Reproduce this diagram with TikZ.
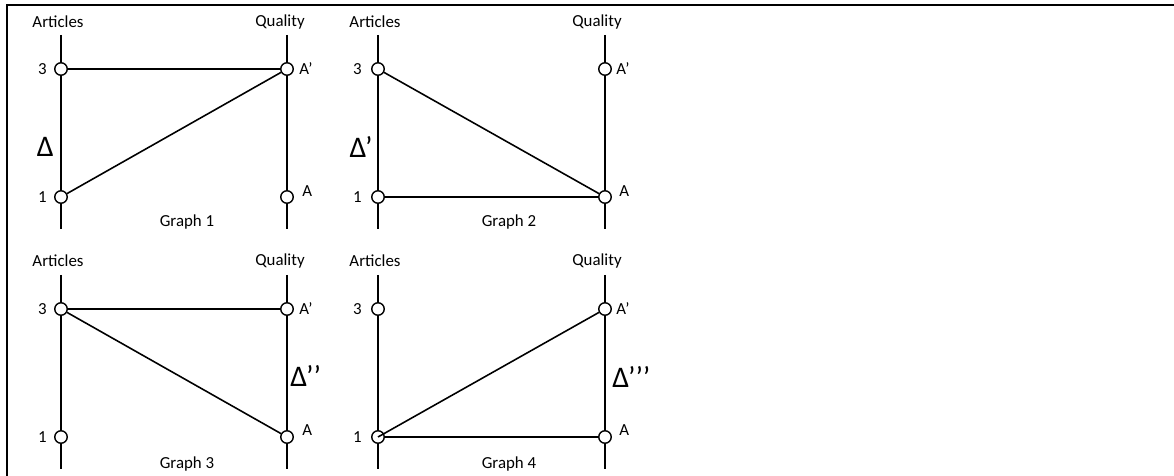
\documentclass[tikz,border=0pt]{standalone}
\usepackage{fontspec}
\setmainfont{Carlito}
\usetikzlibrary{positioning}
\tikzset{
  axis/.style={line width=1.4pt},
  link/.style={line width=0.9pt},
  txt/.style={font=\fontsize{9.6}{11}\selectfont, inner sep=0pt},
  dlt/.style={font=\fontsize{17}{19}\selectfont, inner sep=0pt}
}

\begin{document}
\begin{tikzpicture}[x=0.02cm,y=-0.02cm]
\useasboundingbox (0,0) rectangle (1174,476);
% frame (top and left only)
\coordinate (fr1) at (1174,5);
\coordinate (fr2) at (7,5);
\coordinate (fr3) at (7,476);
\draw[line width=1.6pt] (fr1) -- (fr2) -- (fr3);

% axes
\coordinate (g1at) at (61,35);   \coordinate (g1ab) at (61,229);
\coordinate (g1qt) at (287,35);  \coordinate (g1qb) at (287,229);
\coordinate (g2at) at (378,35);  \coordinate (g2ab) at (378,229);
\coordinate (g2qt) at (605,35);  \coordinate (g2qb) at (605,229);
\coordinate (g3at) at (61,275);  \coordinate (g3ab) at (61,469);
\coordinate (g3qt) at (287,275); \coordinate (g3qb) at (287,469);
\coordinate (g4at) at (378,275); \coordinate (g4ab) at (378,469);
\coordinate (g4qt) at (605,275); \coordinate (g4qb) at (605,469);
\draw[axis] (g1at) -- (g1ab);  \draw[axis] (g1qt) -- (g1qb);
\draw[axis] (g2at) -- (g2ab);  \draw[axis] (g2qt) -- (g2qb);
\draw[axis] (g3at) -- (g3ab);  \draw[axis] (g3qt) -- (g3qb);
\draw[axis] (g4at) -- (g4ab);  \draw[axis] (g4qt) -- (g4qb);

\begin{scope}[every node/.style={circle,draw,line width=0.8pt,fill=white,inner sep=0pt,minimum size=0.25cm}]
    \node (g1a3) at (61,69) {};
    \node (g1a1) at (61,197) {};
    \node (g1qp) at (287,69) {};
    \node (g1q) at (287,197) {};
    \node (g2a3) at (378,69) {};
    \node (g2a1) at (378,197) {};
    \node (g2qp) at (605,69) {};
    \node (g2q) at (605,197) {};
    \node (g3a3) at (61,309) {};
    \node (g3a1) at (61,437) {};
    \node (g3qp) at (287,309) {};
    \node (g3q) at (287,437) {};
    \node (g4a3) at (378,309) {};
    \node (g4a1) at (378,437) {};
    \node (g4qp) at (605,309) {};
    \node (g4q) at (605,437) {};
\end{scope}

% labels
\begin{scope}[every node/.style={txt}]
    \node (g1art) at (58,22) {Articles};
    \node (g1qua) at (280,22) {Quality};
    \node (g2art) at (375,22) {Articles};
    \node (g2qua) at (597,22) {Quality};
    \node (g3art) at (58,261) {Articles};
    \node (g3qua) at (280,261) {Quality};
    \node (g4art) at (375,261) {Articles};
    \node (g4qua) at (597,261) {Quality};
    \node (g1n) at (187,222) {Graph 1};
    \node (g2n) at (509,222) {Graph 2};
    \node (g3n) at (187,464) {Graph 3};
    \node (g4n) at (509,464) {Graph 4};
    \node[anchor=east] at (47,69) {3};
    \node[anchor=east] at (47,197) {1};
    \node[anchor=east] at (362,69) {3};
    \node[anchor=east] at (362,197) {1};
    \node[anchor=east] at (47,309) {3};
    \node[anchor=east] at (47,437) {1};
    \node[anchor=east] at (362,309) {3};
    \node[anchor=east] at (362,437) {1};
    \node[anchor=west] at (299,69) {A’};
    \node[anchor=west] at (302,191) {A};
    \node[anchor=west] at (616,69) {A’};
    \node[anchor=west] at (619,191) {A};
    \node[anchor=west] at (299,309) {A’};
    \node[anchor=west] at (302,430) {A};
    \node[anchor=west] at (616,309) {A’};
    \node[anchor=west] at (619,430) {A};
\end{scope}

% deltas
\node[dlt, anchor=east] (g1d) at (54,147) {Δ};
\node[dlt, anchor=east] (g2d) at (373,147) {Δ’};
\node[dlt, anchor=west] (g3d) at (290,376) {Δ’’};
\node[dlt, anchor=west] (g4d) at (612,377) {Δ’’’};

% links
\begin{scope}[every edge/.style={draw=black,link}]
    \path [-] (g1a3) edge (g1qp);
    \path [-] (g1a1) edge (g1qp);
    \path [-] (g2a3) edge (g2q);
    \path [-] (g2a1) edge (g2q);
    \path [-] (g3a3) edge (g3qp);
    \path [-] (g3a3) edge (g3q);
    \path [-] (g4a1.center) edge (g4qp);
    \path [-] (g4a1) edge (g4q);
\end{scope}
\end{tikzpicture}
\end{document}
